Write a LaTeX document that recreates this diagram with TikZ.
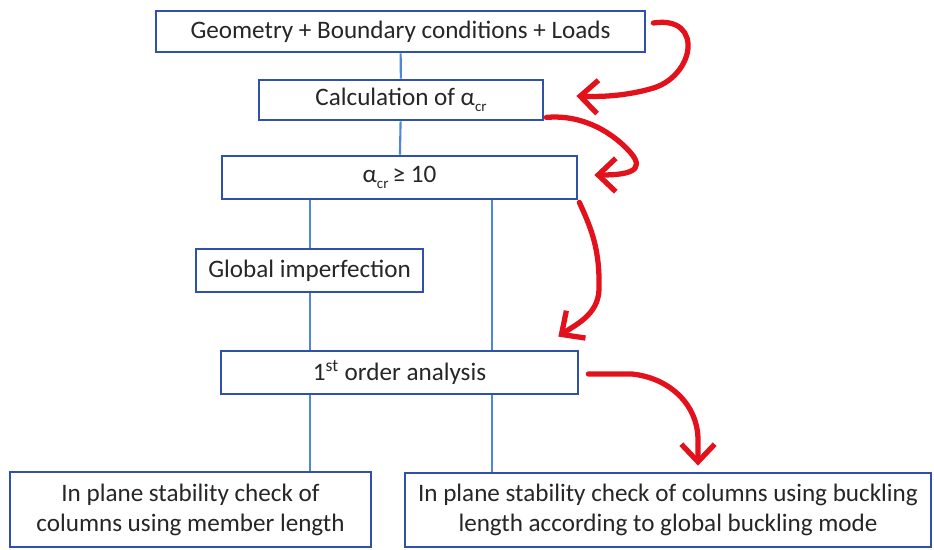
\documentclass[tikz,border=0pt]{standalone}
\usepackage{fontspec}
\setmainfont{Carlito}
\usepackage{xcolor}
\usepackage{tikz}
\usetikzlibrary{arrows.meta,calc}
\definecolor{boxblue}{HTML}{2F52A8}
\definecolor{linkblue}{HTML}{4F86D9}
\definecolor{penred}{HTML}{E3111B}
\newcommand{\acr}{α\raisebox{-0.5ex}{\fontsize{8.5}{9}\selectfont cr}}
\tikzset{
  fcnode/.style={
    rectangle, draw=boxblue, line width=1.6pt, fill=white, text=black!85,
    align=center, font=\fontsize{14.3}{17}\selectfont, inner sep=2pt
  },
  fclink/.style={draw=linkblue, line width=1.2pt},
  fcpen/.style={
    draw=penred, line width=3pt, line cap=round, line join=round,
    -{Straight Barb[length=10pt,width=19pt,line width=3pt]}
  },
}

\begin{document}
\begin{tikzpicture}[x=0.02cm, y=-0.02cm]
  \useasboundingbox (0,0) rectangle (934,549);
  \node (geo)  [fcnode, minimum width=9.78cm, minimum height=0.82cm] at (400.5,31.5) {Geometry + Boundary conditions + Loads};
  \node (calc) [fcnode, minimum width=5.68cm, minimum height=0.80cm] at (401,100) {Calculation of \acr};
  \node (crit) [fcnode, minimum width=7.10cm, minimum height=0.86cm] at (399.5,177.5) {\acr\,≥ 10};
  \node (imp)  [fcnode, minimum width=4.54cm, minimum height=0.86cm] at (309.5,270.5) {Global imperfection};
  \node (ana)  [fcnode, minimum width=7.14cm, minimum height=0.86cm] at (399.5,372.5) {1\textsuperscript{st} order analysis};
  \node (memb) [fcnode, minimum width=7.22cm, minimum height=1.50cm] at (190.5,509.5) {In plane stability check of\\columns using member length};
  \node (buck) [fcnode, minimum width=10.52cm, minimum height=1.48cm] at (668,510) {In plane stability check of columns using buckling\\length according to global buckling mode};
  \coordinate (lx) at (310,0);
  \coordinate (rx) at (492,0);
  % blue links
  \draw[fclink] (geo) -- (calc); \draw[fclink] (calc) -- (crit);
  \draw[fclink] (crit.south -| lx) -- (imp.north -| lx); \draw[fclink] (imp.south -| lx) -- (ana.north -| lx);
  \draw[fclink] (crit.south -| rx) -- (ana.north -| rx);
  \draw[fclink] (ana.south -| lx) -- (memb.north -| lx); \draw[fclink] (ana.south -| rx) -- (buck.north -| rx);
  % red pen marks
  \draw[fcpen] ([shift={(7,-8.5)}]geo.east) .. controls (705,15) and (695,78) .. (650,89)
    .. controls (625,96) and (600,97) .. ([shift={(32,-4)}]calc.east);
  \draw[fcpen] ([shift={(2,-4)}]calc.south east) .. controls (585,114) and (615,135) .. (630,152)
    .. controls (648,172) and (625,175) .. ([shift={(16,-2.5)}]crit.east);
  \draw[fcpen] ([shift={(1,2)}]crit.south east) .. controls (592,230) and (600,250) .. (599,290)
    .. controls (598,315) and (575,325) .. ([shift={(-21,-13)}]ana.north east);
  \draw[fcpen] ([shift={(9,1.5)}]ana.east) -- (632,374) .. controls (670,378) and (698,405) .. (698,440)
    -- ([shift={(30,-6)}]buck.north);
\end{tikzpicture}
\end{document}
